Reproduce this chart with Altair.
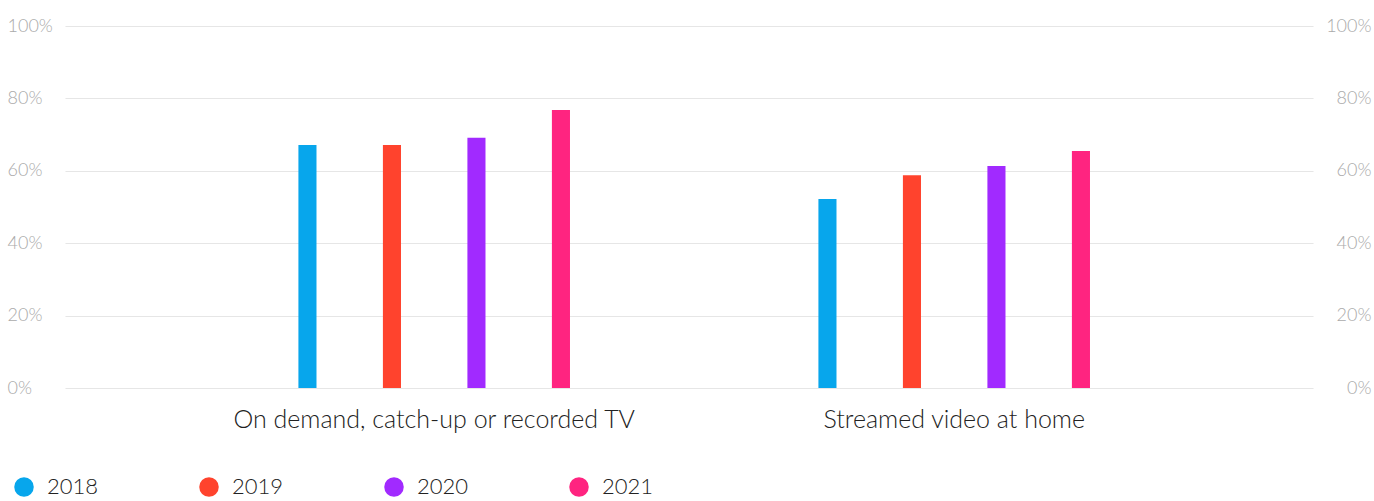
import altair as alt
import pandas as pd

categories = ["On demand, catch-up or recorded TV", "Streamed video at home"]
years = ["2018", "2019", "2020", "2021"]
values_on_demand = [0.671, 0.671, 0.691, 0.768]
values_streamed = [0.522, 0.588, 0.613, 0.655]
colors = ["#07A6EC", "#FF432D", "#A12AFF", "#FF2480"]

rows = []
for cat, vals in zip(categories, [values_on_demand, values_streamed]):
    for y, v in zip(years, vals):
        rows.append({"category": cat, "year": y, "value": v})
df = pd.DataFrame(rows)

FONT = "Lato"

x_enc = alt.X("category:N", sort=categories, title=None,
              scale=alt.Scale(paddingInner=0, paddingOuter=0.2, align=0.525),
              axis=alt.Axis(labelAngle=0, labelFontSize=25, labelColor="#222",
                            labelFont=FONT, labelFontWeight=300, labelPadding=19,
                            ticks=False, domain=False, grid=False, labelLimit=600))
# blank slots on either side give the wide outer spacing of each group
offset_domain = ["_a"] + years + ["_b"]
xoff = alt.XOffset("year:N",
                   scale=alt.Scale(domain=offset_domain, paddingInner=0.786, paddingOuter=0.47))
color = alt.Color("year:N", sort=years,
                  scale=alt.Scale(domain=years, range=colors),
                  legend=alt.Legend(title=None, orient="none", legendX=-52, legendY=450,
                                    direction="horizontal", symbolType="circle",
                                    symbolSize=380, symbolStrokeWidth=0,
                                    labelFontSize=22, labelColor="#222", labelFont=FONT,
                                    labelFontWeight=300,
                                    labelOffset=12, columnPadding=99, gridAlign="all"))

left = alt.Chart(df).mark_bar().encode(
    x=x_enc, xOffset=xoff, color=color,
    y=alt.Y("value:Q", title=None,
            scale=alt.Scale(domain=[0, 1]),
            axis=alt.Axis(format=".0%", values=[0, 0.2, 0.4, 0.6, 0.8, 1.0],
                          orient="left", labelAlign="left", labelPadding=58,
                          ticks=False, domain=False, labelFontSize=18,
                          labelColor="#aaaaaa", labelFont=FONT, labelFontWeight=300,
                          gridColor="#e6e6e6", gridWidth=1.2)),
)

right = alt.Chart(df).mark_bar(opacity=0).encode(
    x=x_enc, xOffset=xoff,
    y=alt.Y("value:Q", title=None,
            scale=alt.Scale(domain=[0, 1]),
            axis=alt.Axis(format=".0%", values=[0, 0.2, 0.4, 0.6, 0.8, 1.0],
                          orient="right", labelAlign="right", labelPadding=58,
                          ticks=False, domain=False, grid=False, labelFontSize=18,
                          labelColor="#aaaaaa", labelFont=FONT, labelFontWeight=300)),
)

chart = alt.layer(left, right).resolve_scale(y="independent").properties(
    width=1248, height=362,
    autosize=alt.AutoSizeParams(type="none"),
    padding={"left": 65, "top": 26, "right": 61, "bottom": 113},
).configure_view(stroke=None)

chart.save("out.html", embed_options={"renderer": "svg", "actions": False})
